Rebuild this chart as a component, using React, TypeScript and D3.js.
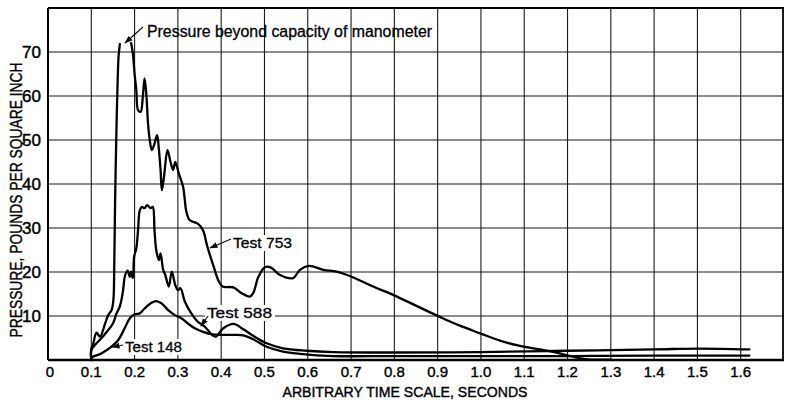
import React, { useEffect, useRef } from "react";
import * as d3 from "d3";

// values: [seconds, psi]
const test753a = [
  [0.1, 0], [0.1, 2.5], [0.104, 3.5], [0.112, 6.2], [0.12, 5.3], [0.132, 8.3], [0.139, 10.2],
  [0.147, 11.4], [0.151, 13.6], [0.153, 21], [0.155, 36], [0.158, 52], [0.16, 60],
  [0.163, 69], [0.166, 71.8],
];
const test753b = [
  [0.192, 72], [0.196, 69.7], [0.2, 65], [0.204, 61.4], [0.208, 56.8], [0.214, 56.4],
  [0.219, 59.8], [0.223, 64], [0.227, 60.6], [0.231, 53.8], [0.235, 50], [0.24, 47.7],
  [0.246, 49.2], [0.252, 51.1], [0.256, 48], [0.26, 43.2], [0.263, 38.6], [0.268, 41.7],
  [0.276, 47.7], [0.283, 45], [0.289, 43.2], [0.294, 45], [0.302, 42.4], [0.312, 39.4],
  [0.316, 36.4], [0.319, 34], [0.327, 31.8], [0.346, 31], [0.358, 29.5], [0.368, 25.8],
  [0.384, 20.8], [0.393, 18.2], [0.403, 16.7], [0.428, 16.5], [0.447, 15.2], [0.466, 14.4],
  [0.474, 15.2], [0.486, 18.9], [0.501, 21.1], [0.515, 21], [0.536, 19.3], [0.566, 18.6],
  [0.582, 20.5], [0.603, 21.4], [0.636, 20.5], [0.667, 20.1], [0.697, 19.1], [0.751, 16.7],
  [0.797, 14.8], [0.851, 12.3], [0.905, 9.8], [0.951, 7.8], [1.0, 6.0], [1.044, 4.4],
  [1.09, 3.2], [1.136, 2.4], [1.182, 1.5], [1.21, 0.8], [1.24, 0.2], [1.3, 0.1],
];
const test588 = [
  [0.1, 0], [0.1, 2.2], [0.11, 3.6], [0.12, 4.6], [0.135, 6.3], [0.15, 8.3], [0.158, 10.5],
  [0.166, 12.2], [0.173, 15.5], [0.178, 19.2], [0.184, 20.3], [0.189, 18.9], [0.192, 20.1],
  [0.196, 18.6], [0.199, 23.5], [0.204, 25.4], [0.208, 29.5], [0.212, 34], [0.217, 34.8],
  [0.223, 34.5], [0.229, 35.2], [0.237, 34.5], [0.242, 34.8], [0.246, 29.5], [0.25, 25],
  [0.256, 22.7], [0.26, 24.2], [0.266, 20.5], [0.271, 19.3], [0.279, 16.7], [0.286, 20.1],
  [0.294, 17], [0.3, 15.9], [0.306, 16.3], [0.316, 13.3], [0.331, 10.6], [0.346, 8.7],
  [0.362, 7.6], [0.386, 5.3], [0.405, 7.2], [0.428, 8.2], [0.451, 7], [0.474, 5.5],
  [0.505, 3.8], [0.543, 2.65], [0.597, 2.1], [0.659, 1.8], [0.8, 1.7], [1.0, 1.8],
  [1.2, 2.1], [1.4, 2.4], [1.5, 2.6], [1.62, 2.4],
];
const test148 = [
  [0.1, 0], [0.1, 0.5], [0.123, 1.5], [0.146, 3], [0.162, 4.5], [0.177, 7.2], [0.189, 9.5],
  [0.2, 10.4], [0.212, 10.6], [0.223, 11.7], [0.239, 13], [0.25, 13.4], [0.262, 12.9],
  [0.277, 11.4], [0.293, 10.2], [0.308, 9.5], [0.323, 8.3], [0.339, 7.2], [0.358, 6.4],
  [0.381, 5.8], [0.4, 5.7], [0.43, 5.7], [0.451, 5.6], [0.474, 4.7], [0.505, 3.0],
  [0.543, 1.9], [0.582, 1.4], [0.659, 0.9], [0.8, 0.9], [1.0, 0.9], [1.2, 0.9],
  [1.4, 1.0], [1.62, 1.0],
];

const xTicks = [0, 0.1, 0.2, 0.3, 0.4, 0.5, 0.6, 0.7, 0.8, 0.9, 1.0, 1.1, 1.2, 1.3, 1.4, 1.5, 1.6];
const xTickLabels = ["0", "0.1", "0.2", "0.3", "0.4", "0.5", "0.6", "0.7", "0.8", "0.9", "1.0", "1.1", "1.2", "1.3", "1.4", "1.5", "1.6"];
const yTicks = [10, 20, 30, 40, 50, 60, 70];
const xGrid = [0.1, 0.2, 0.3, 0.4, 0.5, 0.6, 0.7, 0.8, 0.9, 1.0, 1.1, 1.2, 1.3, 1.4, 1.5, 1.6];
const yGrid = [10, 20, 30, 40, 50, 60, 70];

const FONT = "'Liberation Sans Narrow', 'Liberation Sans', Arial, sans-serif";

// old print is heavy, so give glyphs a hair of outline
function ink(sel, w = 0.35) {
  return sel.attr("fill", "#000").attr("stroke", "#000").attr("stroke-width", w);
}

export default function App() {
  const svgRef = useRef(null);

  useEffect(() => {
    const W = 786, H = 402;
    const svg = d3.select(svgRef.current);
    svg.selectAll("*").remove();
    svg.attr("width", W).attr("height", H);

    const x = d3.scaleLinear().domain([0, 1.7]).range([48, 784]);
    const y = d3.scaleLinear().domain([0, 80]).range([360, 8]);

    svg.append("rect").attr("width", W).attr("height", H).attr("fill", "#fff");

    const defs = svg.append("defs");
    defs.append("marker")
      .attr("id", "arr")
      .attr("viewBox", "0 0 10 10")
      .attr("refX", 9).attr("refY", 5)
      .attr("markerWidth", 7).attr("markerHeight", 7)
      .attr("orient", "auto")
      .append("path").attr("d", "M0,1.5 L10,5 L0,8.5 Z").attr("fill", "#111");

    // grid
    const grid = svg.append("g").attr("stroke", "#1a1a1a").attr("stroke-width", 1.1);
    grid.selectAll(".vx").data(xGrid).join("line")
      .attr("x1", d => x(d)).attr("x2", d => x(d))
      .attr("y1", y(0)).attr("y2", y(80));
    grid.selectAll(".hy").data(yGrid).join("line")
      .attr("x1", x(0)).attr("x2", x(1.7))
      .attr("y1", d => y(d)).attr("y2", d => y(d));

    // frame
    const frame = svg.append("g").attr("stroke", "#000").attr("fill", "none");
    frame.append("line").attr("x1", x(0)).attr("x2", x(1.7)).attr("y1", y(80)).attr("y2", y(80)).attr("stroke-width", 2);
    frame.append("line").attr("x1", x(0)).attr("x2", x(1.7)).attr("y1", y(0)).attr("y2", y(0)).attr("stroke-width", 2.5);
    frame.append("line").attr("x1", x(0)).attr("x2", x(0)).attr("y1", y(0)).attr("y2", y(80)).attr("stroke-width", 2);
    frame.append("line").attr("x1", x(1.7) - 1).attr("x2", x(1.7) - 1).attr("y1", y(0)).attr("y2", y(80)).attr("stroke-width", 1.8);

    // tick labels
    ink(svg.append("g").selectAll("text").data(xTicks).join("text")
      .attr("x", d => x(d) + (d === 0 ? 2 : 0))
      .attr("y", 377)
      .attr("text-anchor", "middle")
      .attr("font-family", FONT)
      .attr("font-size", 15)
      .text((d, i) => xTickLabels[i]), 0.4);

    ink(svg.append("g").selectAll("text").data(yTicks).join("text")
      .attr("x", 41)
      .attr("y", d => y(d))
      .attr("dy", "0.36em")
      .attr("text-anchor", "end")
      .attr("font-family", FONT)
      .attr("font-size", 17)
      .text(d => d), 0.45);

    // axis titles
    ink(svg.append("text")
      .attr("transform", "translate(22,200) rotate(-90)")
      .attr("text-anchor", "middle")
      .attr("font-family", FONT)
      .attr("font-size", 17)
      .attr("textLength", 275)
      .attr("lengthAdjust", "spacingAndGlyphs")
      .text("PRESSURE, POUNDS PER SQUARE INCH"), 0.4);

    ink(svg.append("text")
      .attr("x", 405).attr("y", 397)
      .attr("text-anchor", "middle")
      .attr("font-family", FONT)
      .attr("font-size", 15.5)
      .attr("textLength", 245)
      .attr("lengthAdjust", "spacingAndGlyphs")
      .text("ARBITRARY TIME SCALE, SECONDS"), 0.4);

    // curves
    const line = d3.line()
      .x(d => x(d[0]))
      .y(d => y(d[1]))
      .curve(d3.curveCatmullRom.alpha(0.5));

    const curves = svg.append("g").attr("fill", "none").attr("stroke", "#000")
      .attr("stroke-width", 2.3).attr("stroke-linejoin", "round").attr("stroke-linecap", "round");
    [test753a, test753b, test588, test148].forEach(s => {
      curves.append("path").attr("d", line(s));
    });

    // annotations
    const labels = [
      { text: "Test 753", x: 233, y: 248, len: 59, from: [231, 239], to: [210, 248] },
      { text: "Test 588", x: 207, y: 318, len: 65, from: [208, 316], to: [201, 326] },
      { text: "Test 148", x: 125, y: 352, len: 57, from: [123, 345], to: [112, 347] },
    ];
    labels.forEach(l => {
      svg.append("rect")
        .attr("x", l.x - 2).attr("y", l.y - 13)
        .attr("width", l.len + 5).attr("height", 16)
        .attr("fill", "#fff");
      ink(svg.append("text")
        .attr("x", l.x).attr("y", l.y)
        .attr("font-family", FONT)
        .attr("font-size", 15.5)
        .attr("textLength", l.len)
        .attr("lengthAdjust", "spacingAndGlyphs")
        .text(l.text), 0.3);
      svg.append("line")
        .attr("x1", l.from[0]).attr("y1", l.from[1])
        .attr("x2", l.to[0]).attr("y2", l.to[1])
        .attr("stroke", "#111").attr("stroke-width", 1.2)
        .attr("marker-end", "url(#arr)");
    });

    ink(svg.append("text")
      .attr("x", 147).attr("y", 37)
      .attr("font-family", FONT)
      .attr("font-size", 16)
      .attr("textLength", 285)
      .attr("lengthAdjust", "spacingAndGlyphs")
      .text("Pressure beyond capacity of manometer"), 0.3);
    svg.append("line")
      .attr("x1", 143).attr("y1", 27)
      .attr("x2", 125).attr("y2", 43)
      .attr("stroke", "#111").attr("stroke-width", 1.2)
      .attr("marker-end", "url(#arr)");
  }, []);

  return (
    <svg ref={svgRef} style={{ position: "absolute", left: 0, top: 0, display: "block" }} />
  );
}
